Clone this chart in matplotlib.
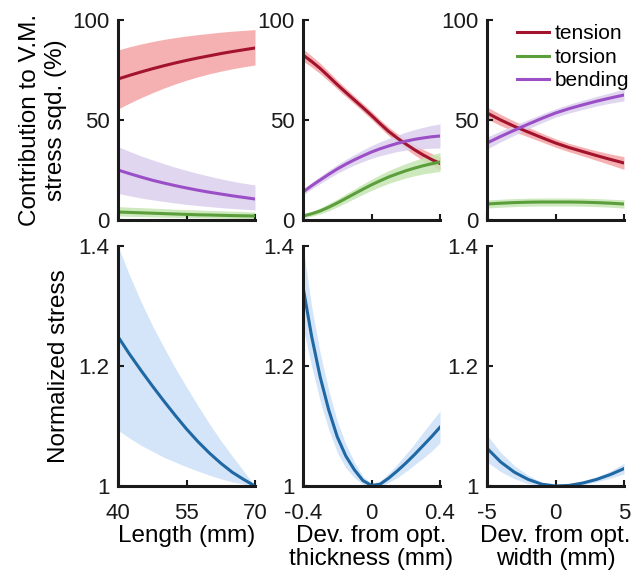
import numpy as np
import matplotlib.pyplot as plt

plt.rcParams['font.family'] = ['Liberation Sans', 'DejaVu Sans']
plt.rcParams['font.size'] = 16

# ---- data: contribution to V.M. stress squared (%) ----
len_x = [40, 42.5, 45, 47.5, 50, 52.5, 55, 57.5, 60, 62.5, 65, 67.5, 70]
len_tension = [70.5, 72.3, 74, 75.6, 77.1, 78.5, 79.8, 81, 82.1, 83.2, 84.2, 85.1, 86]
len_tension_hi = [85, 86.6, 88, 89.2, 90.3, 91.2, 92, 92.7, 93.3, 93.9, 94.4, 94.8, 95.2]
len_tension_lo = [55.5, 58.4, 61.1, 63.6, 65.9, 68, 69.9, 71.6, 73.1, 74.4, 75.6, 76.6, 77.5]
len_torsion = [4, 3.8, 3.6, 3.4, 3.2, 3.0, 2.8, 2.6, 2.5, 2.35, 2.2, 2.1, 2.0]
len_torsion_hi = [6.7, 6.4, 6.2, 5.9, 5.7, 5.4, 5.2, 5.0, 4.8, 4.6, 4.4, 4.2, 4.0]
len_torsion_lo = [2.0, 1.85, 1.7, 1.55, 1.4, 1.3, 1.2, 1.1, 1.0, 0.9, 0.8, 0.7, 0.6]
len_bending = [25, 23.2, 21.5, 19.9, 18.5, 17.2, 16, 14.9, 13.9, 13, 12.1, 11.3, 10.5]
len_bending_hi = [36.7, 34.3, 32.1, 30.1, 28.2, 26.4, 24.8, 23.3, 21.9, 20.6, 19.4, 18.4, 17.5]
len_bending_lo = [13.3, 12.1, 11, 10.1, 9.3, 8.5, 7.8, 7.2, 6.7, 6.2, 5.8, 5.4, 5.0]

thk_x = [-0.4, -0.35, -0.3, -0.25, -0.2, -0.15, -0.1, -0.05, 0,
         0.05, 0.1, 0.15, 0.2, 0.25, 0.3, 0.35, 0.4]
thk_tension = [82.5, 79.3, 75.8, 71.8, 67.7, 63.8, 60, 56.2, 52.3,
               48.2, 44.3, 41, 38, 35.2, 32.6, 30.3, 28.3]
thk_tension_err = [3, 2.8, 2.6, 2.4, 2.2, 2.1, 2, 2, 2, 2, 2.1, 2.2, 2.4, 2.6, 2.8, 3, 3.2]
thk_torsion = [2, 3.1, 4.5, 6.4, 8.5, 10.8, 13.1, 15.4, 17.6,
               19.6, 21.5, 23.1, 24.6, 25.9, 27.1, 28.1, 29]
thk_torsion_err = [1, 1.2, 1.5, 1.8, 2, 2.2, 2.4, 2.6, 2.8, 3, 3.2, 3.4, 3.6, 3.8, 4.1, 4.4, 4.7]
thk_bending = [14, 17.1, 20, 22.8, 25.5, 27.9, 30.1, 32.1, 34,
               35.6, 37, 38.3, 39.4, 40.3, 41, 41.6, 42]
thk_bending_err = [1.5, 1.6, 1.8, 2, 2.2, 2.4, 2.6, 2.9, 3.2, 3.5, 3.8, 4.1, 4.5, 4.9, 5.3, 5.7, 6]

wid_x = [-5, -4, -3, -2, -1, 0, 1, 2, 3, 4, 5]
wid_tension = [53.5, 50, 46.8, 44, 41.2, 38.5, 36.2, 34.2, 32.2, 30.3, 28.5]
wid_tension_err = [3, 2.8, 2.6, 2.4, 2.2, 2.1, 2.1, 2.2, 2.4, 2.7, 3.2]
wid_torsion = [8, 8.4, 8.7, 8.9, 9, 9, 9, 8.9, 8.7, 8.4, 8]
wid_torsion_err = [2, 2, 2, 2, 2, 2, 2, 2, 2, 2, 2.1]
wid_bending = [38.5, 41.8, 44.9, 47.9, 50.8, 53.5, 55.7, 57.6, 59.4, 61, 62.5]
wid_bending_err = [3, 2.7, 2.5, 2.3, 2.2, 2.1, 2.2, 2.3, 2.4, 2.6, 3]

# ---- data: normalized stress ----
len_stress = [1.249, 1.22, 1.193, 1.167, 1.142, 1.118, 1.095, 1.074, 1.055, 1.038, 1.023, 1.011, 1.0]
len_stress_hi = [1.4, 1.352, 1.308, 1.268, 1.232, 1.197, 1.165, 1.134, 1.104, 1.076, 1.05, 1.025, 1.0]
len_stress_lo = [1.093, 1.08, 1.068, 1.058, 1.048, 1.04, 1.032, 1.025, 1.018, 1.012, 1.007, 1.003, 1.0]

thk_stress = [1.332, 1.25, 1.182, 1.127, 1.082, 1.05, 1.027, 1.009, 1.001,
              1.003, 1.013, 1.025, 1.038, 1.052, 1.067, 1.082, 1.098]
thk_stress_hi = [1.4, 1.3, 1.222, 1.16, 1.108, 1.07, 1.04, 1.016, 1.004,
                 1.008, 1.021, 1.036, 1.053, 1.07, 1.089, 1.107, 1.125]
thk_stress_lo = [1.265, 1.2, 1.142, 1.094, 1.056, 1.03, 1.014, 1.002, 0.998,
                 0.999, 1.006, 1.014, 1.024, 1.035, 1.046, 1.058, 1.072]

wid_stress = [1.063, 1.04, 1.023, 1.011, 1.003, 1.0, 1.001, 1.005, 1.011, 1.019, 1.029]
wid_stress_hi = [1.085, 1.056, 1.034, 1.018, 1.006, 1.001, 1.003, 1.008, 1.015, 1.025, 1.038]
wid_stress_lo = [1.04, 1.024, 1.012, 1.004, 1.0, 0.999, 0.999, 1.002, 1.007, 1.013, 1.02]

c_ten, b_ten = '#a3132e', '#f4a4a4'
c_tor, b_tor = '#5b9e3c', '#c6e6b2'
c_ben, b_ben = '#9b4fc6', '#dccfee'
c_str, b_str = '#1f68a3', '#d0e3f9'


def band(m, e):
    m, e = np.array(m), np.array(e)
    return m, m - e, m + e


fig = plt.figure(figsize=(6.35, 5.8), dpi=100)
lefts = [118/635, 303/635, 487/635]
w = 137/635
top_axes = [fig.add_axes([l, 1-220/580, w, 200/580]) for l in lefts]
bot_axes = [fig.add_axes([l, 1-486/580, w, 240/580]) for l in lefts]

top_data = [
    (len_x, [(len_tension, len_tension_lo, len_tension_hi),
             (len_torsion, len_torsion_lo, len_torsion_hi),
             (len_bending, len_bending_lo, len_bending_hi)]),
    (thk_x, [band(thk_tension, thk_tension_err),
             band(thk_torsion, thk_torsion_err),
             band(thk_bending, thk_bending_err)]),
    (wid_x, [band(wid_tension, wid_tension_err),
             band(wid_torsion, wid_torsion_err),
             band(wid_bending, wid_bending_err)]),
]
bot_data = [
    (len_x, len_stress, len_stress_lo, len_stress_hi),
    (thk_x, thk_stress, thk_stress_lo, thk_stress_hi),
    (wid_x, wid_stress, wid_stress_lo, wid_stress_hi),
]
xlims = [(40, 70), (-0.4, 0.4), (-5, 5)]
xticks = [[40, 55, 70], [-0.4, 0, 0.4], [-5, 0, 5]]
xticklabels = [['40', '55', '70'], ['-0.4', '0', '0.4'], ['-5', '0', '5']]
xlabels = ['Length (mm)', 'Dev. from opt.\nthickness (mm)', 'Dev. from opt.\nwidth (mm)']
names = ['tension', 'torsion', 'bending']


def style(ax):
    for s in ['top', 'right']:
        ax.spines[s].set_visible(False)
    for s in ['left', 'bottom']:
        ax.spines[s].set_linewidth(2.2)
        ax.spines[s].set_color('#1a1a1a')
    ax.tick_params(direction='in', length=4, width=1.5, color='#1a1a1a',
                   labelsize=16, labelcolor='#1a1a1a')
    ax.tick_params(axis='y', pad=6)
    ax.tick_params(axis='x', pad=12)


for i, ax in enumerate(top_axes):
    x, series = top_data[i]
    for (c, b), (m, lo, hi), nm in zip([(c_ten, b_ten), (c_tor, b_tor), (c_ben, b_ben)], series, names):
        ax.fill_between(x, lo, hi, color=b, alpha=0.85, lw=0)
        ax.plot(x, m, color=c, lw=2.2, label=nm)
    ax.set_xlim(*xlims[i])
    ax.set_ylim(0, 100)
    ax.set_yticks([0, 50, 100])
    ax.set_xticks(xticks[i])
    ax.set_xticklabels([])
    style(ax)

top_axes[0].set_ylabel('Contribution to V.M.\nstress sqd. (%)', fontsize=17.5, labelpad=4)
leg = top_axes[2].legend(loc='upper right', frameon=False, fontsize=15,
                         handlelength=1.5, handletextpad=0.3, labelspacing=0.22,
                         borderaxespad=0.0, bbox_to_anchor=(1.1, 1.02))

for i, ax in enumerate(bot_axes):
    x, m, lo, hi = bot_data[i]
    ax.fill_between(x, lo, hi, color=b_str, alpha=0.9, lw=0)
    ax.plot(x, m, color=c_str, lw=2.2)
    ax.set_xlim(*xlims[i])
    ax.set_ylim(1, 1.4)
    ax.set_yticks([1, 1.2, 1.4])
    ax.set_yticklabels(['1', '1.2', '1.4'])
    ax.set_xticks(xticks[i])
    ax.set_xticklabels(xticklabels[i])
    ax.set_xlabel(xlabels[i], fontsize=17.5, labelpad=1, linespacing=1.05)
    style(ax)

bot_axes[0].set_ylabel('Normalized stress', fontsize=17.5, labelpad=6)

fig.savefig('out.png', dpi=100)
